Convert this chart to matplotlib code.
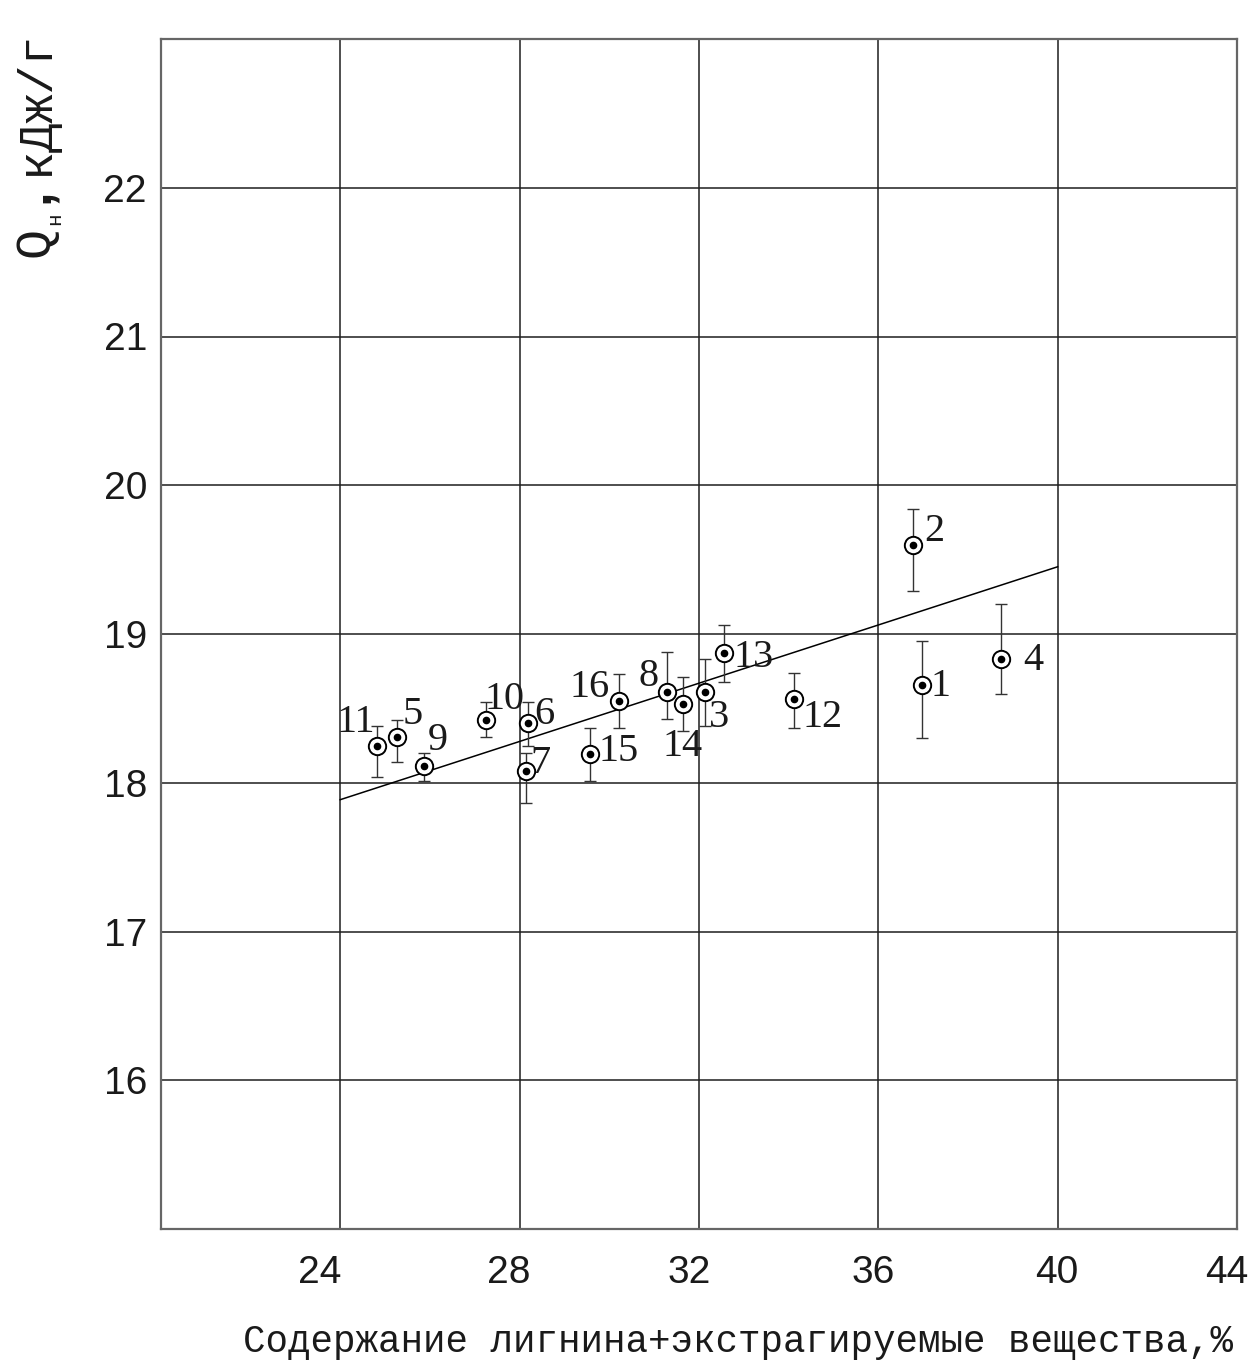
import matplotlib
matplotlib.use("Agg")
import matplotlib.pyplot as plt
import matplotlib.transforms as mtransforms

# ----------- Data -----------
sample_ids = [1, 2, 3, 4, 5, 6, 7, 8, 9, 10, 11, 12, 13, 14, 15, 16]
lignin_extr = [36.97, 36.77, 32.13, 38.74, 25.27, 28.18, 28.14, 31.29,
               25.87, 27.25, 24.83, 34.12, 32.57, 31.65, 29.58, 30.22]
heat_value = [18.66, 19.60, 18.61, 18.83, 18.31, 18.40, 18.08, 18.61,
              18.11, 18.42, 18.25, 18.56, 18.87, 18.53, 18.19, 18.55]
err_up = [0.29, 0.24, 0.22, 0.37, 0.11, 0.14, 0.12, 0.27,
          0.09, 0.12, 0.13, 0.18, 0.19, 0.18, 0.18, 0.18]
err_down = [0.36, 0.31, 0.23, 0.23, 0.17, 0.155, 0.215, 0.18,
            0.10, 0.11, 0.21, 0.19, 0.19, 0.18, 0.18, 0.18]

fit_x = [24, 40]
fit_y = [17.886, 19.452]

x_ticks = [24, 28, 32, 36, 40, 44]
y_ticks = [16, 17, 18, 19, 20, 21, 22]

# label offsets (points) for the sample numbers
label_offsets = {
    1: (13.7, -1.4), 2: (15.8, 9.4), 3: (10.1, -18), 4: (23, -0.7),
    5: (11.5, 15.8), 6: (12.2, 6.5), 7: (10.8, 5.0), 8: (-13.0, 11.5),
    9: (10.1, 18.7), 10: (13.7, 15.1), 11: (-15.8, 16.6), 12: (20.9, -13),
    13: (20.9, -2.9), 14: (-0.7, -31), 15: (20.2, 2.2), 16: (-20.9, 9.4),
}
# the x tick labels sit a little left of their grid lines in the original
xtick_shift = [-20, -11, -10, -5, -1, -10]

W, H = 1252, 1364
fig = plt.figure(figsize=(W / 100, H / 100), dpi=100)
ax = fig.add_axes([160.8 / W, 1 - 1229 / H, (1237 - 160.8) / W, (1229 - 39) / H])

ax.set_xlim(20, 44)
ax.set_ylim(15, 23)

# ----------- grid -----------
ax.set_xticks(x_ticks)
ax.set_yticks(y_ticks)
ax.grid(True, color="#1e1e1e", linewidth=1.1)
ax.set_axisbelow(True)
for sp in ax.spines.values():
    sp.set_color("#666666")
    sp.set_linewidth(1.6)

ax.tick_params(length=0)
ax.tick_params(axis="x", pad=19)
ax.tick_params(axis="y", pad=10)
ax.set_xticklabels([str(v) for v in x_ticks], fontsize=28,
                   family="Liberation Sans", color="#1a1a1a")
ax.set_yticklabels([str(v) for v in y_ticks], fontsize=28,
                   family="Liberation Sans", color="#1a1a1a")
for lab, dx in zip(ax.get_xticklabels(), xtick_shift):
    lab.set_transform(lab.get_transform() +
                      mtransforms.ScaledTranslation(dx / 100, 0, fig.dpi_scale_trans))

# ----------- regression line -----------
ax.plot(fit_x, fit_y, color="black", linewidth=1.1, zorder=3)

# ----------- points with error bars -----------
ax.errorbar(lignin_extr, heat_value, yerr=[err_down, err_up], fmt="none",
            ecolor="#333333", elinewidth=1.0, capsize=4, capthick=1.0, zorder=4)
ax.plot(lignin_extr, heat_value, "o", markersize=12.5, markerfacecolor="white",
        markeredgecolor="black", markeredgewidth=1.4, zorder=5)
ax.plot(lignin_extr, heat_value, "o", markersize=4.5, color="black", zorder=6)

for sid, xv, yv in zip(sample_ids, lignin_extr, heat_value):
    ax.annotate(str(sid), (xv, yv), xytext=label_offsets[sid],
                textcoords="offset points", ha="center", va="center",
                fontsize=29, family="Liberation Serif", color="#1a1a1a", zorder=7)


# ----------- axis titles (placed in pixels like the original) -----------
def px_text(px, py, s, **kw):
    fig.text(px / W, 1 - py / H, s, **kw)


mono = dict(family="Liberation Mono", color="#1a1a1a")
px_text(243, 1352, "Содержание лигнина+экстрагируемые вещества,%",
        fontsize=27, ha="left", va="baseline", **mono)

rot = dict(rotation=90, rotation_mode="anchor", ha="left", va="baseline")
px_text(48, 257, "Q", fontsize=36, **rot, **mono)
px_text(60, 225, "н", fontsize=15, **rot, **mono)
px_text(48, 203, ",", fontsize=38, weight="bold", family="Liberation Sans",
        color="#1a1a1a", **rot)
px_text(48, 175, "кДж/г", fontsize=35, **rot, **mono)

fig.savefig("out.png", dpi=100)
